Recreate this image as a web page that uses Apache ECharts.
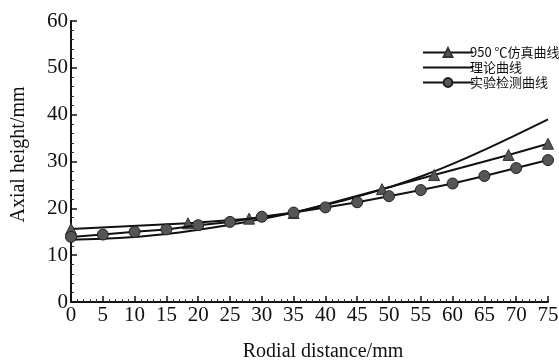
<!DOCTYPE html>
<html>
<head>
<meta charset="utf-8">
<script src="https://cdn.jsdelivr.net/npm/echarts@6/dist/echarts.min.js"></script>
<style>html,body{margin:0;padding:0;background:#fff;}#c{width:559px;height:360px;}</style>
</head>
<body>
<div id="c"></div>
<script>
var seriesNames = ['950 ℃仿真曲线', '理论曲线', '实验检测曲线'];
var xTicks = [0, 5, 10, 15, 20, 25, 30, 35, 40, 45, 50, 55, 60, 65, 70, 75];
var yTicks = [0, 10, 20, 30, 40, 50, 60];

var simX = [0, 18.4, 28, 35, 48.9, 57.1, 68.8, 75];
var simY = [15.6, 16.8, 17.8, 19.0, 24.1, 27.1, 31.4, 33.8];

var theoryX = [0, 5, 10, 15, 20, 25, 30, 35, 40, 45, 50, 55, 60, 65, 70, 75];
var theoryY = [13.3, 13.5, 13.9, 14.5, 15.4, 16.5, 17.7, 19.1, 20.7, 22.5, 24.5, 26.8, 29.5, 32.5, 35.7, 39.0];

var expX = [0, 5, 10, 15, 20, 25, 30, 35, 40, 45, 50, 55, 60, 65, 70, 75];
var expY = [13.9, 14.4, 15.0, 15.5, 16.4, 17.1, 18.2, 19.1, 20.2, 21.3, 22.6, 23.9, 25.3, 26.9, 28.6, 30.3];

function pairs(xs, ys) { return xs.map(function (x, i) { return [x, ys[i]]; }); }

var serif = '"Liberation Serif", "Times New Roman", serif';
var chart = echarts.init(document.getElementById('c'), null, { renderer: 'canvas' });
var axisCommon = {
  axisLine: { show: true, lineStyle: { color: '#111', width: 2 } },
  axisTick: { show: true, inside: true, length: 6, lineStyle: { color: '#111', width: 1.5 } },
  minorTick: { show: true, splitNumber: 5, length: 3, lineStyle: { color: '#333', width: 1 } },
  splitLine: { show: false },
  axisLabel: { color: '#111', fontFamily: serif, fontSize: 21, margin: 3 },
  nameTextStyle: { color: '#111', fontFamily: serif, fontSize: 20 }
};
chart.setOption({
  animation: false,
  backgroundColor: '#fff',
  grid: { left: 71, right: 11, top: 21, bottom: 58, containLabel: false, outerBoundsMode: 'none' },
  legend: {
    orient: 'vertical',
    left: 417,
    top: 41,
    itemWidth: 50,
    itemHeight: 11,
    itemGap: 2,
    textStyle: { fontFamily: '"Noto Sans CJK SC", sans-serif', fontSize: 13, color: '#111', padding: [0, 0, 0, -8] },
    data: [
      { name: seriesNames[0] },
      { name: seriesNames[1], itemStyle: { opacity: 0 } },
      { name: seriesNames[2] }
    ]
  },
  xAxis: Object.assign({}, axisCommon, {
    type: 'value', min: xTicks[0], max: xTicks[xTicks.length - 1], interval: 5,
    name: 'Rodial distance/mm', nameLocation: 'middle', nameGap: 40,
    nameTextStyle: Object.assign({}, axisCommon.nameTextStyle, { padding: [0, 0, 0, 27] })
  }),
  yAxis: Object.assign({}, axisCommon, {
    type: 'value', min: yTicks[0], max: yTicks[yTicks.length - 1], interval: 10,
    name: 'Axial height/mm', nameLocation: 'middle', nameGap: 42,
    nameTextStyle: Object.assign({}, axisCommon.nameTextStyle, { padding: [0, 0, 0, 14] })
  }),
  series: [
    {
      name: seriesNames[1], type: 'line', smooth: true, symbol: 'none',
      data: pairs(theoryX, theoryY),
      lineStyle: { color: '#111', width: 2 }, itemStyle: { color: '#111' }, z: 2
    },
    {
      name: seriesNames[0], type: 'line', symbol: 'triangle', symbolSize: 11,
      data: pairs(simX, simY),
      lineStyle: { color: '#111', width: 2 },
      itemStyle: { color: '#555', borderColor: '#333', borderWidth: 1 }, z: 3
    },
    {
      name: seriesNames[2], type: 'line', symbol: 'circle', symbolSize: 11,
      data: pairs(expX, expY),
      lineStyle: { color: '#111', width: 2 },
      itemStyle: { color: '#555', borderColor: '#222', borderWidth: 1 }, z: 4
    }
  ]
});
</script>
</body>
</html>
